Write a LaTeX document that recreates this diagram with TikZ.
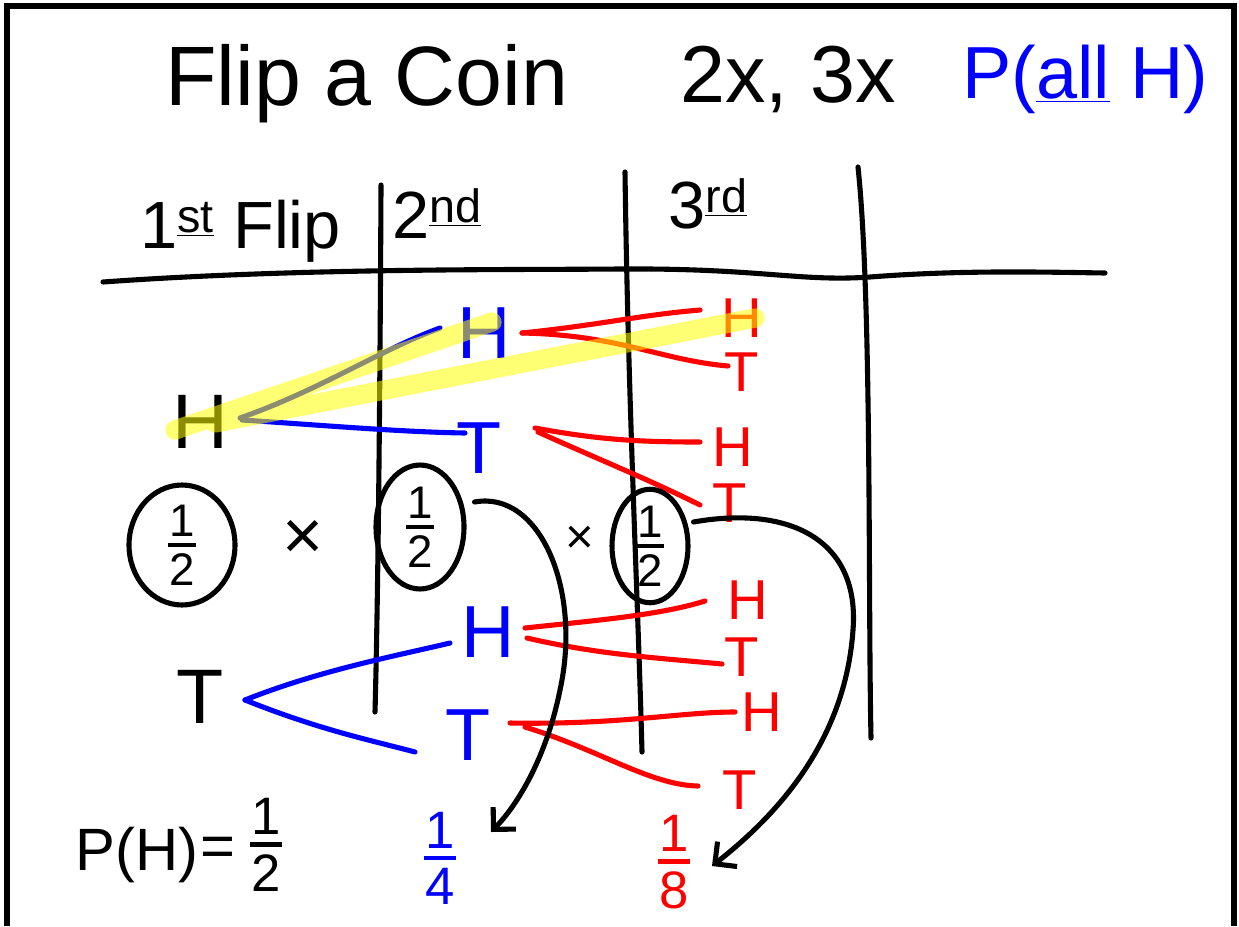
\documentclass[tikz,border=0pt]{standalone}
\usepackage{fontspec}
\setmainfont{Liberation Sans}
\usetikzlibrary{shapes.geometric,arrows.meta,calc}
\definecolor{pblue}{RGB}{0,0,255}
\definecolor{pred}{RGB}{255,0,0}
\definecolor{pyel}{RGB}{255,255,0}
\newcommand\hfr[3]{\vbox{\offinterlineskip\halign{\hfil##\hfil\cr #2\cr\noalign{\kern0.14em}\rule{#1}{0.09em}\cr\noalign{\kern0.14em}#3\cr}}}
\begin{document}
\begin{tikzpicture}[x=0.02cm,y=-0.02cm,
  pen/.style={line width=2.9pt,line cap=round,line join=round},
  bpen/.style={pen,draw=pblue},
  rpen/.style={pen,draw=pred},
  kpen/.style={pen,draw=black},
  hl/.style={line width=11pt,draw=pyel,draw opacity=0.55,line cap=round,line join=round},
  title/.style={inner sep=0pt,anchor=base west,font=\fontsize{48}{52}\selectfont},
  head/.style={inner sep=0pt,anchor=base west,font=\fontsize{38}{42}\selectfont},
  rootl/.style={inner sep=0pt,font=\fontsize{44}{48}\selectfont},
  bl/.style={inner sep=0pt,text=pblue,font=\fontsize{42}{46}\selectfont},
  rl/.style={inner sep=0pt,text=pred,font=\fontsize{32}{36}\selectfont},
  circ/.style={ellipse,draw,pen,inner sep=0pt,font=\fontsize{26}{28}\selectfont},
  frac/.style={inner sep=0pt,font=\fontsize{30}{34}\selectfont},
  tip/.style={-{Straight Barb[length=9pt,width=18pt,line width=2.9pt]}}
]
\useasboundingbox (0,0) rectangle (1239,926);
% frame
\draw[line width=3pt] (7,926) -- (7,6) -- (1234,6) -- (1234,926);

% title
\node[title] (t1) at (165,105) {Flip a Coin};
\node[title,font=\fontsize{46}{50}\selectfont] (t2) at (680,102) {2x, 3x};
\node[title,text=pblue,font=\fontsize{42}{46}\selectfont] (t3) at (962,98) {P(\underline{all} H)};

% headers
\node[head] (h1) at (140,248) {1\textsuperscript{\underline{st}} Flip};
\node[head] (h2) at (392,238) {2\textsuperscript{\underline{nd}}};
\node[head] (h3) at (668,228) {3\textsuperscript{\underline{rd}}};

% grid
\coordinate (gl) at (103,282);
\coordinate (gr) at (1105,273);
\draw[kpen] (gl) .. controls (300,268) and (500,270) .. (620,269)
  .. controls (760,268) and (800,282) .. (870,277)
  .. controls (960,270) and (1040,272) .. (gr);
\coordinate (v1a) at (381,185); \coordinate (v1b) at (375,712);
\coordinate (v2a) at (625,172); \coordinate (v2b) at (642,752);
\coordinate (v3a) at (858,167); \coordinate (v3b) at (871,738);
\draw[kpen] (v1a) .. controls (380,400) and (378,600) .. (v1b);
\draw[kpen] (v2a) .. controls (628,400) and (638,600) .. (v2b);
\draw[kpen] (v3a) .. controls (872,300) and (868,600) .. (v3b);

% tree level 1
\node[rootl] (rH) at (200,422) {H};
\node[rootl] (rT) at (200,697) {T};
% level 2
\node[bl] (bH1) at (484,333) {H};
\node[bl] (bT1) at (479,448) {T};
\node[bl] (bH2) at (488,632) {H};
\node[bl] (bT2) at (468,735) {T};
% level 3
\node[rl] (r1) at (742,318) {H};
\node[rl] (r2) at (742,372) {T};
\node[rl] (r3) at (733,447) {H};
\node[rl] (r4) at (730,503) {T};
\node[rl] (r5) at (748,600) {H};
\node[rl] (r6) at (742,657) {T};
\node[rl] (r7) at (762,712) {H};
\node[rl] (r8) at (740,790) {T};

% blue branches
\draw[bpen] ($(rH)+(40,-4)$) .. controls (320,390) and (380,350) .. ($(bH1)+(-44,-5)$);
\draw[bpen] ($(rH)+(42,-2)$) .. controls (320,425) and (400,432) .. ($(bT1)+(-14,-15)$);
\draw[bpen] ($(rT)+(45,3)$) .. controls (320,670) and (400,655) .. ($(bH2)+(-38,11)$);
\draw[bpen] ($(rT)+(45,3)$) .. controls (320,730) and (370,740) .. ($(bT2)+(-53,17)$);

% red branches
\draw[rpen] ($(bH1)+(38,0)$) .. controls (600,325) and (640,315) .. ($(r1)+(-42,-8)$);
\draw[rpen] ($(bH1)+(38,0)$) .. controls (620,335) and (660,360) .. ($(r2)+(-14,-6)$);
\draw[rpen] ($(bT1)+(56,-20)$) .. controls (600,440) and (640,442) .. ($(r3)+(-33,-5)$);
\draw[rpen] ($(bT1)+(59,-16)$) .. controls (600,460) and (650,480) .. ($(r4)+(-30,2)$);
\draw[rpen] ($(bH2)+(37,-4)$) .. controls (600,620) and (660,615) .. ($(r5)+(-43,1)$);
\draw[rpen] ($(bH2)+(39,6)$) .. controls (600,655) and (660,658) .. ($(r6)+(-20,7)$);
\draw[rpen] ($(bT2)+(42,-12)$) .. controls (620,725) and (680,712) .. ($(r7)+(-27,0)$);
\draw[rpen] ($(bT2)+(57,-8)$) .. controls (600,750) and (650,785) .. ($(r8)+(-42,-4)$);

% highlight
\draw[hl] ($(bH1)+(8,-11)$) -- ($(rH)+(-25,8)$) ($(rH)+(15,1)$) -- ($(r1)+(13,0)$);

% circled halves
\node[circ,minimum width=2.12cm,minimum height=2.4cm] (e1) at (182,545) {\hfr{0.62em}{1}{2}};
\node[circ,minimum width=1.76cm,minimum height=2.48cm] (e2) at (420,527) {\hfr{0.62em}{1}{2}};
\node[circ,minimum width=1.52cm,minimum height=1.96cm] (e3) at (650,546) {\hfr{0.62em}{1}{2}};
\node[inner sep=0pt,font=\fontsize{40}{44}\selectfont] (x1) at (303,540) {×};
\node[inner sep=0pt,font=\fontsize{28}{30}\selectfont] (x2) at (580,540) {×};

% bottom
\node[head,font=\fontsize{34}{38}\selectfont] (ph) at (75,870) {P(H)};
\node[inner sep=0pt,font=\fontsize{34}{38}\selectfont] (eq) at (218,852) {=};
\node[frac] (f2) at (266,845) {\hfr{0.62em}{1}{2}};
\node[frac,text=pblue] (f4) at (440,858) {\hfr{0.62em}{1}{4}};
\node[frac,text=pred] (f8) at (674,862) {\hfr{0.62em}{1}{8}};

% arrows
\coordinate (a1) at (491,832);
\coordinate (a2) at (712,866);
\draw[kpen,tip] ($(e2.east)+(8,-25)$) .. controls (540,490) and (582,590) .. (560,690)
   .. controls (548,750) and (522,800) .. (a1);
\draw[kpen,tip] ($(e3.east)+(3,-24)$) .. controls (790,505) and (860,540) .. (853,630)
   .. controls (846,730) and (790,805) .. (a2);
\end{tikzpicture}
\end{document}
